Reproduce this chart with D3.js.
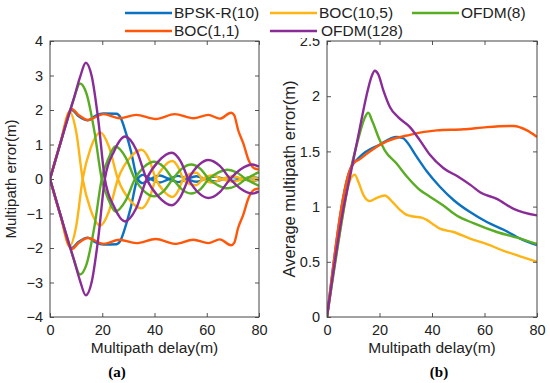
<!DOCTYPE html>
<html>
<head>
<meta charset="utf-8">
<script src="https://cdn.jsdelivr.net/npm/d3@7"></script>
<style>
body { margin: 0; background: #fff; }
svg { display: block; }
</style>
</head>
<body>
<svg width="550" height="383"></svg>
<script>
/////////////////////////
// data
/////////////////////////

var names  = ["BPSK-R(10)", "BOC(10,5)", "OFDM(8)", "BOC(1,1)", "OFDM(128)"];
var colors = ["#0b72c2", "#fdb414", "#58ad22", "#ff570a", "#8a2c98"];

var xTicks  = [0, 20, 40, 60, 80];
var yTicksA = [-4, -3, -2, -1, 0, 1, 2, 3, 4];
var yTicksB = [0, 0.5, 1, 1.5, 2, 2.5];

// (a) multipath error envelope, upper branch (the lower branch is its mirror)
var envDelayBpsk = [0, 4, 8.3, 11, 14.5, 17.5, 20.5, 25.5, 27, 29, 31, 33.5, 35.5, 38.5, 42, 45.5, 49, 52.5, 56, 59.5, 63, 66.5, 70, 73.5, 77, 80];
var envErrBpsk   = [0, 1.05, 2.0, 1.82, 1.70, 1.84, 1.9, 1.89, 1.78, 1.35, 0.8, 0, -0.12, 0, 0.1, 0, -0.09, 0, 0.08, 0, -0.07, 0, 0.06, 0, -0.05, -0.02];

var envDelayBoc105 = [0, 4, 7.5, 10, 12.5, 15.5, 19.3, 22.5, 26, 31, 35, 38, 40.5, 43.5, 46.8, 49, 51, 53.5, 56, 58.5, 62, 66, 70, 74, 77, 80];
var envErrBoc105   = [0, 1.05, 1.95, 1.38, 0, -0.88, -1.35, -0.95, 0, 0.65, 0.85, 0.56, 0, -0.35, -0.52, -0.35, 0, 0.15, 0.18, 0, -0.1, 0, 0.08, 0, -0.05, 0];

var envDelayOfdm8 = [0, 5, 9, 11.5, 14, 17, 19.8, 22.5, 25, 29, 32.5, 36, 39.8, 43.5, 47, 50.5, 54, 57.5, 60.8, 64.5, 68, 71.5, 75, 80];
var envErrOfdm8   = [0, 1.3, 2.3, 2.77, 2.47, 1.38, 0, -0.62, -0.94, -0.62, 0, 0.35, 0.5, 0.35, 0, -0.3, -0.42, -0.3, 0, 0.19, 0.27, 0.19, 0, -0.2];

var envDelayBoc11 = [0, 4, 8.3, 11, 14.5, 20.5, 26.5, 33, 40.5, 47.8, 54.9, 60.6, 65, 69.3, 70.5, 72, 74, 76, 78, 80];
var envErrBoc11   = [0, 1.05, 2.03, 1.85, 1.71, 1.88, 1.76, 1.86, 1.74, 1.88, 1.76, 1.86, 1.75, 1.92, 1.85, 1.42, 1.03, 0.55, 0.32, 0.27];

var envDelayOfdm128 = [0, 5, 9, 11.5, 13.7, 16, 18.5, 21, 24.5, 28.7, 33, 37, 41.5, 46.6, 50, 53, 57, 60.6, 65, 69, 73, 77.5, 80];
var envErrOfdm128   = [0, 1.3, 2.3, 2.95, 3.37, 2.97, 1.7, 0, -0.8, -1.23, -0.85, 0, 0.51, 0.76, 0.51, 0, -0.41, -0.55, -0.38, 0, 0.28, 0.42, 0.36];

// (b) average multipath error
var avgDelayBpsk = [0, 8.7, 12.5, 20, 26.5, 29, 30.3, 34.2, 38, 43, 48.2, 54.5, 60.9, 67.3, 73.6, 80];
var avgErrBpsk   = [0, 1.33, 1.45, 1.56, 1.63, 1.62, 1.59, 1.45, 1.32, 1.18, 1.06, 0.95, 0.86, 0.79, 0.71, 0.65];

var avgDelayBoc105 = [0, 6, 8.5, 10.6, 12, 14, 16.3, 19, 22, 25, 27.8, 30, 32.9, 36, 38, 41, 43, 48.2, 54.5, 60.9, 67.3, 73.6, 80];
var avgErrBoc105   = [0, 0.92, 1.22, 1.29, 1.22, 1.1, 1.05, 1.08, 1.10, 1.04, 0.97, 0.93, 0.91, 0.90, 0.88, 0.83, 0.80, 0.77, 0.71, 0.66, 0.60, 0.55, 0.50];

var avgDelayOfdm8 = [0, 6, 9, 12, 14.3, 15.7, 17.3, 20.1, 22, 26.5, 30.5, 35.4, 39.2, 44.3, 49.4, 55.8, 64.7, 73.6, 80];
var avgErrOfdm8   = [0, 0.92, 1.33, 1.62, 1.8, 1.85, 1.77, 1.60, 1.51, 1.39, 1.27, 1.15, 1.09, 1.01, 0.92, 0.85, 0.77, 0.71, 0.66];

var avgDelayBoc11 = [0, 8.7, 10, 12.5, 16.3, 22.7, 31.6, 41.8, 52, 60.9, 71.1, 76.2, 80];
var avgErrBoc11   = [0, 1.33, 1.39, 1.43, 1.50, 1.59, 1.65, 1.69, 1.70, 1.72, 1.73, 1.69, 1.63];

var avgDelayOfdm128 = [0, 6, 9, 12, 15, 17, 18.2, 19.5, 21.5, 24, 27.1, 31.6, 35.4, 39.2, 44.3, 50, 55, 58.3, 64.7, 71.1, 80];
var avgErrOfdm128   = [0, 0.95, 1.3, 1.65, 2.0, 2.18, 2.23, 2.2, 2.05, 1.90, 1.81, 1.72, 1.60, 1.47, 1.35, 1.27, 1.19, 1.13, 1.07, 0.98, 0.92];

/////////////////////////
// build series (legend order = drawing order)
/////////////////////////

var envSeries = [
    d3.zip(envDelayBpsk, envErrBpsk),
    d3.zip(envDelayBoc105, envErrBoc105),
    d3.zip(envDelayOfdm8, envErrOfdm8),
    d3.zip(envDelayBoc11, envErrBoc11),
    d3.zip(envDelayOfdm128, envErrOfdm128)
];
var avgSeries = [
    d3.zip(avgDelayBpsk, avgErrBpsk),
    d3.zip(avgDelayBoc105, avgErrBoc105),
    d3.zip(avgDelayOfdm8, avgErrOfdm8),
    d3.zip(avgDelayBoc11, avgErrBoc11),
    d3.zip(avgDelayOfdm128, avgErrOfdm128)
];

var svg = d3.select("svg");
var tickFont = "'Liberation Serif', 'Times New Roman', serif";
var labelFont = "'Liberation Sans', Arial, sans-serif";

function drawPanel(p) {
    var x = d3.scaleLinear().domain([0, 80]).range([p.left, p.right]);
    var y = d3.scaleLinear().domain(p.yDomain).range([p.bottom, p.top]);

    var g = svg.append("g").attr("class", "panel");

    g.append("clipPath").attr("id", p.id + "-clip")
	.append("rect")
	.attr("x", p.left).attr("y", p.top)
	.attr("width", p.right - p.left).attr("height", p.bottom - p.top);

    // curves
    var line = d3.line().curve(d3.curveMonotoneX);
    var lines = g.append("g").attr("clip-path", "url(#" + p.id + "-clip)");
    p.series.forEach(function(s, i) {
	p.signs.forEach(function(sign) {
	    lines.append("path")
		.attr("d", line.x(function(d){ return x(d[0]); })
		      .y(function(d){ return y(sign * d[1]); })(s))
		.attr("fill", "none")
		.attr("stroke", colors[i])
		.attr("stroke-width", 2.4)
		.attr("stroke-linejoin", "round");
	});
    });

    // axes, ticks pointing inward on all four sides
    var ax = g.append("g").attr("font-family", tickFont);
    ax.append("g").attr("transform", "translate(0," + p.bottom + ")")
	.call(d3.axisBottom(x).tickValues(xTicks).tickSize(-4).tickSizeOuter(0).tickPadding(8));
    ax.append("g").attr("transform", "translate(0," + p.top + ")")
	.call(d3.axisTop(x).tickValues(xTicks).tickSize(-4).tickSizeOuter(0).tickFormat(""));
    ax.append("g").attr("transform", "translate(" + p.left + ",0)")
	.call(d3.axisLeft(y).tickValues(p.yTicks).tickSize(-4).tickSizeOuter(0).tickPadding(7).tickFormat(p.yFormat));
    ax.append("g").attr("transform", "translate(" + p.right + ",0)")
	.call(d3.axisRight(y).tickValues(p.yTicks).tickSize(-4).tickSizeOuter(0).tickFormat(""));
    ax.selectAll(".domain").remove();
    ax.selectAll("line").attr("stroke", "#555");
    ax.selectAll("text").attr("font-size", "14.5px").attr("fill", "#222");

    g.append("rect")
	.attr("x", p.left).attr("y", p.top)
	.attr("width", p.right - p.left).attr("height", p.bottom - p.top)
	.attr("fill", "none").attr("stroke", "#444").attr("stroke-width", 1);

    // labels
    g.append("text")
	.attr("x", (p.left + p.right) / 2).attr("y", 353)
	.attr("text-anchor", "middle")
	.attr("font-family", labelFont).attr("font-size", "15.5px").attr("fill", "#222")
	.text("Multipath delay(m)");
    g.append("text")
	.attr("transform", "translate(" + p.yLabelX + "," + (p.top + p.bottom) / 2 + ") rotate(-90)")
	.attr("text-anchor", "middle")
	.attr("font-family", labelFont).attr("font-size", p.yLabelSize).attr("fill", "#222")
	.text(p.yLabel);
    g.append("text")
	.attr("x", p.tagX).attr("y", 377)
	.attr("text-anchor", "middle")
	.attr("font-family", tickFont).attr("font-size", "15px").attr("font-weight", "bold")
	.text(p.tag);
}

drawPanel({
    id: "a", left: 50, right: 259, top: 41, bottom: 317,
    yDomain: [-4, 4], yTicks: yTicksA, yFormat: d3.format("d"),
    series: envSeries, signs: [1, -1],
    yLabel: "Multipath error(m)", yLabelX: 15.5, yLabelSize: "15px", tag: "(a)", tagX: 117
});
drawPanel({
    id: "b", left: 327, right: 537, top: 41, bottom: 317,
    yDomain: [0, 2.5], yTicks: yTicksB, yFormat: function(d){ return String(d); },
    series: avgSeries, signs: [1],
    yLabel: "Average multipath error(m)", yLabelX: 295, yLabelSize: "16.5px", tag: "(b)", tagX: 439
});

/////////////////////////
// legend, 3 columns row by row
/////////////////////////

var legend = svg.append("g").attr("id", "legend");
legend.append("rect")
    .attr("x", 120).attr("y", 0).attr("width", 360).attr("height", 38)
    .attr("fill", "#fff");

var colX = [125, 270, 412];
var rowY = [13, 31];

legend.selectAll(".item")
    .data(names)
    .enter().append("g")
    .attr("class", "item")
    .attr("transform", function(d, i) {
	return "translate(" + colX[i % 3] + "," + rowY[Math.floor(i / 3)] + ")";
    })
    .each(function(d, i) {
	var item = d3.select(this);
	item.append("line")
	    .attr("x1", 0).attr("x2", 47).attr("y1", 0).attr("y2", 0)
	    .attr("stroke", colors[i]).attr("stroke-width", 2.4);
	item.append("text")
	    .attr("x", i == 4 ? 51 : 49).attr("y", 5)
	    .attr("font-family", labelFont).attr("font-size", "15.5px").attr("fill", "#222")
	    .text(d);
    });
</script>
</body>
</html>
